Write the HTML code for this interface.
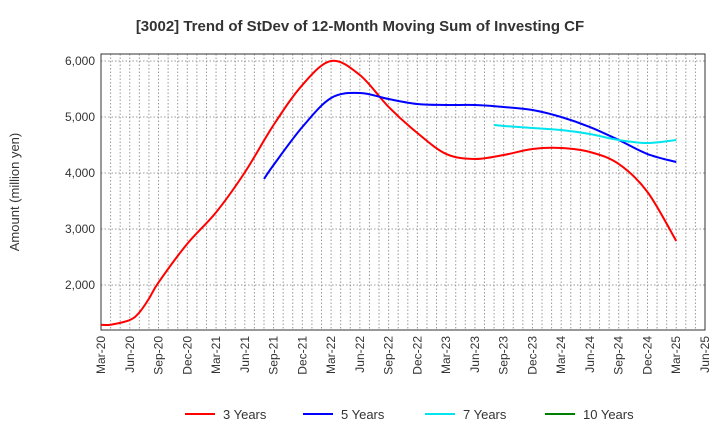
<!DOCTYPE html>
<html><head><meta charset="utf-8"><style>
body{margin:0;background:#fff;font-family:"Liberation Sans",sans-serif}
</style></head><body>
<svg id="c" width="720" height="440" xmlns="http://www.w3.org/2000/svg">
<text x="360" y="31" text-anchor="middle" font-size="15" font-weight="bold" fill="#333">[3002]  Trend of StDev of 12-Month Moving Sum of Investing CF</text>
<text transform="translate(19,192) rotate(-90)" text-anchor="middle" font-size="13" fill="#333">Amount (million yen)</text>
<g id="grid"></g><g id="axes"></g><g id="series"></g><g id="legend"></g>
</svg>
<script>
const xLabels=["Mar-20","Jun-20","Sep-20","Dec-20","Mar-21","Jun-21","Sep-21","Dec-21","Mar-22","Jun-22","Sep-22","Dec-22","Mar-23","Jun-23","Sep-23","Dec-23","Mar-24","Jun-24","Sep-24","Dec-24","Mar-25","Jun-25"];
const yTicks=[2000,3000,4000,5000,6000];
const m3=[0,1,3,4,5,6,9,12,15,18,21,24,27,30,33,36,39,42,45,48,51,54,57,60];
const v3=[1291,1291,1375,1510,1755,2046,2737,3297,4011,4857,5571,6000,5750,5180,4714,4340,4250,4321,4429,4446,4375,4161,3661,2786];
const m5=[17,18,21,24,27,30,33,36,39,42,45,48,51,54,57,60];
const v5=[3893,4143,4821,5339,5429,5321,5232,5214,5214,5179,5125,5000,4821,4589,4339,4196];
const m7=[41,42,45,48,51,54,57,60];
const v7=[4857,4840,4804,4768,4696,4589,4536,4589];
const m10=[];const v10=[];
const names=["3 Years","5 Years","7 Years","10 Years"];
const colors=["#ff0000","#0000ff","#00e5ee","#008000"];
const L=101,R=705,T=54,B=330;
const xs=m=>L+m*(R-L)/63;
const ys=v=>61+(6000-v)/1000*56;
const NS="http://www.w3.org/2000/svg";
function mk(tag,attrs,parent){const e=document.createElementNS(NS,tag);for(const k in attrs)e.setAttribute(k,attrs[k]);parent.appendChild(e);return e;}
const grid=document.getElementById('grid'),axes=document.getElementById('axes');
for(let m=1;m<63;m++){const l=mk('line',{x1:xs(m),x2:xs(m),y1:T,y2:B,stroke:'#999','stroke-dasharray':'1.5,2','stroke-width':1},grid);

}
yTicks.forEach(v=>{const l=mk('line',{x1:L,x2:R,y1:ys(v),y2:ys(v),stroke:'#999','stroke-dasharray':'1.5,2'},grid);


const t=mk('text',{x:L-6,y:ys(v)+4,'text-anchor':'end','font-size':12,fill:'#333'},axes);t.textContent=v.toLocaleString('en-US');

});
const fr=mk('rect',{x:L,y:T,width:R-L,height:B-T,fill:'none',stroke:'#333'},axes);


xLabels.forEach((s,i)=>{const x=xs(i*3);const t=mk('text',{transform:`translate(${x+4},${B+6}) rotate(-90)`,'text-anchor':'end','font-size':12,fill:'#333'},axes);t.textContent=s;

});
function path(ms,vs){const p=ms.map((m,i)=>[xs(m),ys(vs[i])]);if(!p.length)return '';let d=`M${p[0][0]},${p[0][1]}`;
for(let i=0;i<p.length-1;i++){const p0=p[i-1]||p[i],p1=p[i],p2=p[i+1],p3=p[i+2]||p2;
d+=` C${p1[0]+(p2[0]-p0[0])/6},${p1[1]+(p2[1]-p0[1])/6} ${p2[0]-(p3[0]-p1[0])/6},${p2[1]-(p3[1]-p1[1])/6} ${p2[0]},${p2[1]}`;}return d;}
const S=[[m3,v3],[m5,v5],[m7,v7],[m10,v10]];const sg=document.getElementById('series');
S.forEach((s,i)=>{if(!s[0].length)return;const p=mk('path',{d:path(s[0],s[1]),fill:'none',stroke:colors[i],'stroke-width':2},sg);

});
const lg=document.getElementById('legend');const lx=[185,303,425,545];
names.forEach((n,i)=>{const g=mk('g',{},lg);


mk('line',{x1:lx[i],x2:lx[i]+30,y1:414,y2:414,stroke:colors[i],'stroke-width':2},g);
const t=mk('text',{x:lx[i]+38,y:419,'font-size':13,fill:'#333'},g);t.textContent=n;});
</script>
</body></html>
